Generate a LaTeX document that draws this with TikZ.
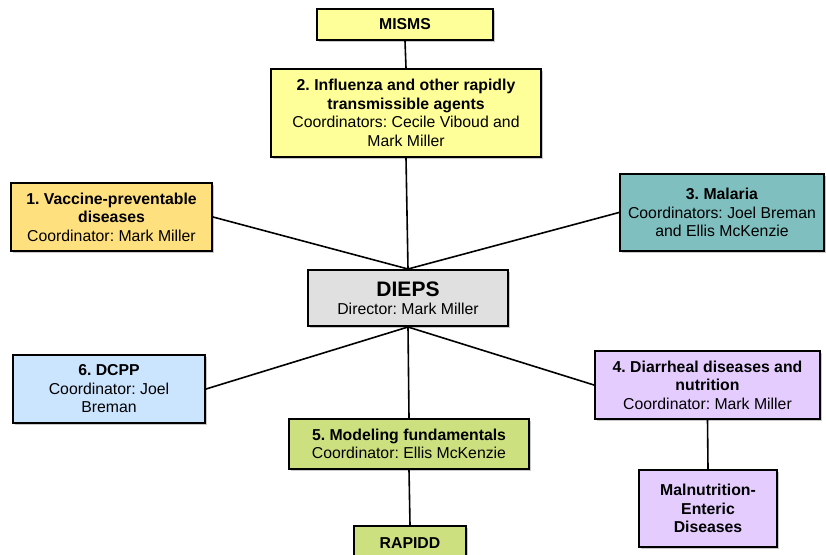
\documentclass[tikz,border=0pt]{standalone}
\usepackage{fontspec}
\setmainfont{Liberation Sans}
\frenchspacing
\usetikzlibrary{shadows}
\definecolor{cyel}{HTML}{FFFF99}
\definecolor{cgold}{HTML}{FFE07F}
\definecolor{cteal}{HTML}{80BFBF}
\definecolor{cgrey}{HTML}{E0E0E0}
\definecolor{cblue}{HTML}{CCE5FF}
\definecolor{cgreen}{HTML}{CCE080}
\definecolor{cpurp}{HTML}{E5CCFF}
\begin{document}
\begin{tikzpicture}[x=1pt,y=-1pt,
  box/.style={draw=black,line width=2pt,align=center,inner sep=0pt,
    font=\fontsize{15.8}{18.5}\selectfont,
    drop shadow={shadow xshift=2pt,shadow yshift=-2pt,fill=black!35,opacity=0.6}},
  link/.style={draw=black,line width=1.6pt}]
\useasboundingbox (0,0) rectangle (826,554);
\fill[white] (0,0) rectangle (826,554);
\node[box,fill=cyel,minimum width=176pt,minimum height=31pt] (misms) at (405,24.5) {\textbf{MISMS}};
\node[box,fill=cyel,minimum width=270pt,minimum height=88pt] (flu) at (406,113)
  {\textbf{2. Influenza and other rapidly}\\\textbf{transmissible agents}\\Coordinators: Cecile Viboud and\\Mark Miller};
\node[box,fill=cgold,minimum width=201pt,minimum height=68pt] (vac) at (111.5,217)
  {\textbf{1. Vaccine-preventable}\\\textbf{diseases}\\Coordinator: Mark Miller};
\node[box,fill=cteal,minimum width=204pt,minimum height=77pt] (mal) at (722,212.5)
  {\textbf{3. Malaria}\\Coordinators: Joel Breman\\and Ellis McKenzie};
\node[box,fill=cgrey,minimum width=200pt,minimum height=56pt] (dieps) at (408,298)
  {{\fontsize{21}{24}\selectfont\textbf{DIEPS}}\\Director: Mark Miller};
\node[box,fill=cblue,minimum width=192pt,minimum height=68pt] (dcpp) at (109,389)
  {\textbf{6. DCPP}\\Coordinator: Joel\\Breman};
\node[box,fill=cgreen,minimum width=240pt,minimum height=50pt] (model) at (409,444)
  {\textbf{5. Modeling fundamentals}\\Coordinator: Ellis McKenzie};
\node[box,fill=cgreen,minimum width=112pt,minimum height=34pt] (rapidd) at (410,543)
  {\textbf{RAPIDD}};
\node[box,fill=cpurp,minimum width=225pt,minimum height=68pt] (diar) at (707.5,385)
  {\textbf{4. Diarrheal diseases and}\\\textbf{nutrition}\\Coordinator: Mark Miller};
\node[box,fill=cpurp,minimum width=138pt,minimum height=77pt] (malnut) at (708,508.5)
  {\textbf{Malnutrition-}\\\textbf{Enteric}\\\textbf{Diseases}};
\draw[link] (misms.south) -- (flu.north);
\draw[link] (flu.south) -- (dieps.north);
\draw[link] (vac.east) -- (dieps.north);
\draw[link] (mal.west) -- (dieps.north);
\draw[link] (dcpp.east) -- (dieps.south);
\draw[link] (dieps.south) -- (model.north);
\draw[link] (dieps.south) -- (diar.west);
\draw[link] (diar.south) -- (malnut.north);
\draw[link] (model.south) -- (rapidd.north);
\end{tikzpicture}
\end{document}
